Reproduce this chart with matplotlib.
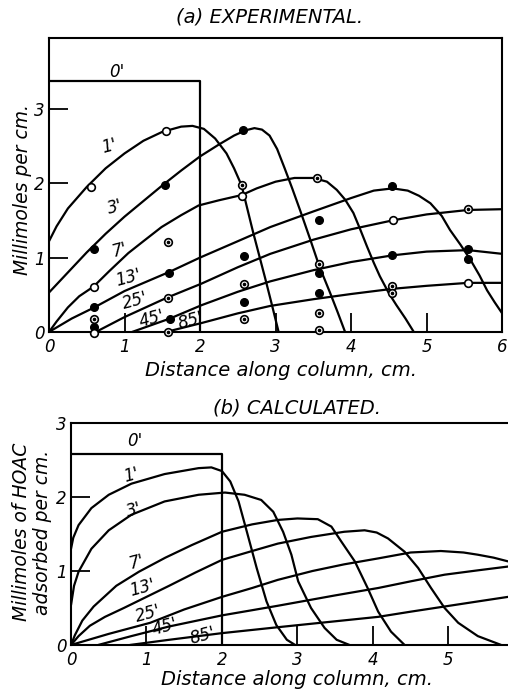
import matplotlib
matplotlib.use("Agg")
import matplotlib.pyplot as plt

# ---- (a) experimental: curves ----
times = ["0'", "1'", "3'", "7'", "13'", "25'", "45'", "85'"]

exp_0_x = [0, 2.0, 2.0]
exp_0_y = [3.37, 3.37, 0]

exp_1_x = [0, 0.1, 0.25, 0.5, 0.75, 1.0, 1.25, 1.5, 1.75, 1.9, 2.05, 2.2, 2.35, 2.45, 2.55,
           2.62, 2.7, 2.78, 2.86, 2.95, 3.04]
exp_1_y = [1.22, 1.42, 1.66, 1.95, 2.2, 2.4, 2.57, 2.69, 2.76, 2.77, 2.73, 2.6, 2.4, 2.2, 1.97,
           1.68, 1.35, 1.04, 0.73, 0.37, 0]

exp_3_x = [0, 0.25, 0.5, 0.75, 1.0, 1.25, 1.5, 1.75, 2.0, 2.25, 2.45, 2.6, 2.72, 2.82, 2.92,
           3.02, 3.12, 3.22, 3.33, 3.46, 3.58, 3.72, 3.82, 3.92]
exp_3_y = [0.53, 0.8, 1.07, 1.32, 1.55, 1.76, 1.97, 2.17, 2.36, 2.52, 2.64, 2.71, 2.74, 2.72, 2.64,
           2.46, 2.2, 1.93, 1.62, 1.24, 0.88, 0.53, 0.27, 0]

exp_7_x = [0, 0.1, 0.25, 0.4, 0.59, 0.8, 1.05, 1.25, 1.49, 1.75, 1.98, 2.25, 2.55, 2.75, 3.0,
           3.25, 3.5, 3.68, 3.81, 3.92, 4.03, 4.12, 4.21, 4.3, 4.38, 4.5, 4.6, 4.72, 4.83]
exp_7_y = [0, 0.14, 0.33, 0.48, 0.61, 0.82, 1.06, 1.22, 1.41, 1.57, 1.7, 1.77, 1.84, 1.93, 2.02,
           2.07, 2.07, 2.02, 1.91, 1.78, 1.6, 1.38, 1.15, 0.93, 0.75, 0.52, 0.36, 0.18, 0]

exp_13_x = [0, 0.3, 0.6, 1.0, 1.3, 1.6, 2.0, 2.5, 2.93, 3.5, 4.0, 4.3, 4.55, 4.75, 4.9, 5.05,
            5.2, 5.31, 5.45, 5.58, 5.7, 5.8, 5.9, 6.0]
exp_13_y = [0, 0.18, 0.33, 0.55, 0.68, 0.81, 1.0, 1.22, 1.41, 1.62, 1.8, 1.9, 1.93, 1.9, 1.83,
            1.73, 1.56, 1.37, 1.17, 0.97, 0.76, 0.56, 0.4, 0.25]

exp_25_x = [0.62, 1.0, 1.56, 2.02, 2.5, 2.93, 3.5, 4.0, 4.55, 5.0, 5.55, 6.0]
exp_25_y = [0, 0.2, 0.46, 0.65, 0.87, 1.05, 1.24, 1.38, 1.5, 1.58, 1.64, 1.65]

exp_45_x = [1.1, 1.6, 2.02, 2.5, 2.93, 3.5, 4.0, 4.55, 5.0, 5.55, 6.0]
exp_45_y = [0, 0.18, 0.36, 0.54, 0.68, 0.83, 0.94, 1.03, 1.08, 1.1, 1.05]

exp_85_x = [1.55, 2.02, 2.5, 2.93, 3.5, 4.0, 4.55, 5.0, 5.55, 6.0]
exp_85_y = [0, 0.12, 0.25, 0.35, 0.44, 0.51, 0.58, 0.62, 0.66, 0.66]

# measured points: filled, open, open with centre dot
pts_filled_x = [0.59, 0.6, 0.6, 1.54, 1.59, 1.6, 2.57, 2.58, 2.58, 3.57, 3.57, 3.57, 4.54, 4.54, 5.55, 5.55]
pts_filled_y = [1.12, 0.33, 0.07, 1.97, 0.79, 0.17, 2.71, 1.02, 0.40, 1.51, 0.79, 0.52, 1.96, 1.04, 1.11, 0.98]
pts_open_x = [0.56, 0.59, 0.6, 1.55, 2.55, 4.55, 5.55]
pts_open_y = [1.95, 0.61, -0.01, 2.70, 1.83, 1.51, 0.66]
pts_dot_x = [0.6, 1.58, 1.57, 1.58, 2.55, 2.58, 2.58, 3.55, 3.57, 3.57, 3.57, 4.54, 4.54, 5.55]
pts_dot_y = [0.17, 1.21, 0.46, 0.0, 1.98, 0.65, 0.17, 2.07, 0.91, 0.26, 0.03, 0.62, 0.52, 1.65]

# ---- (b) calculated ----
calc_0_x = [0, 2.0, 2.0]
calc_0_y = [2.58, 2.58, 0]

calc_1_x = [0, 0.03, 0.1, 0.27, 0.5, 0.8, 1.24, 1.69, 1.86, 2.0, 2.11, 2.22, 2.33, 2.46, 2.59,
            2.72, 2.86, 2.97]
calc_1_y = [1.3, 1.45, 1.62, 1.85, 2.03, 2.18, 2.31, 2.39, 2.4, 2.35, 2.21, 1.94, 1.53, 1.04, 0.59,
            0.27, 0.07, 0]

calc_3_x = [0, 0.04, 0.1, 0.27, 0.5, 0.8, 1.24, 1.69, 2.04, 2.3, 2.52, 2.68, 2.81, 2.92, 3.01,
            3.18, 3.36, 3.52, 3.69]
calc_3_y = [0.54, 0.8, 0.99, 1.3, 1.55, 1.76, 1.94, 2.03, 2.06, 2.03, 1.96, 1.8, 1.53, 1.22, 0.86,
            0.5, 0.23, 0.07, 0]

calc_7_x = [0, 0.05, 0.15, 0.3, 0.6, 0.9, 1.25, 1.6, 2.0, 2.4, 2.74, 3.0, 3.27, 3.45, 3.58, 3.76,
            3.93, 4.07, 4.24, 4.42]
calc_7_y = [0, 0.13, 0.33, 0.52, 0.8, 0.99, 1.18, 1.35, 1.53, 1.63, 1.69, 1.71, 1.7, 1.6, 1.4, 1.13,
            0.77, 0.45, 0.18, 0]

calc_13_x = [0, 0.1, 0.25, 0.45, 0.7, 0.94, 1.3, 1.65, 2.0, 2.4, 2.74, 3.18, 3.62, 3.89, 4.05, 4.2,
             4.42, 4.6, 4.77, 4.95, 5.13, 5.39, 5.7]
calc_13_y = [0, 0.12, 0.26, 0.38, 0.5, 0.62, 0.8, 0.98, 1.15, 1.27, 1.37, 1.46, 1.53, 1.55, 1.52, 1.44,
             1.26, 1.04, 0.77, 0.5, 0.3, 0.12, 0]

calc_25_x = [0, 0.5, 1.05, 1.5, 2.0, 2.4, 2.74, 3.2, 3.62, 4.07, 4.5, 4.9, 5.2, 5.39, 5.6, 5.79]
calc_25_y = [0, 0.15, 0.3, 0.48, 0.65, 0.77, 0.88, 1.0, 1.09, 1.17, 1.25, 1.27, 1.25, 1.22, 1.18, 1.13]

calc_45_x = [0.36, 0.8, 1.3, 2.0, 2.4, 2.74, 3.5, 4.07, 4.5, 4.95, 5.4, 5.79]
calc_45_y = [0, 0.12, 0.25, 0.4, 0.47, 0.53, 0.67, 0.77, 0.86, 0.95, 1.01, 1.06]

calc_85_x = [0.78, 1.3, 2.0, 2.74, 3.5, 4.07, 4.5, 4.95, 5.4, 5.79]
calc_85_y = [0, 0.07, 0.16, 0.24, 0.32, 0.38, 0.45, 0.52, 0.59, 0.65]

ticks_top = [0, 1, 2, 3, 4, 5, 6]
ticks_bot = [0, 1, 2, 3, 4, 5]
yticks_top = [0, 1, 2, 3]
yticks_bot = [0, 1, 2, 3]

plt.rcParams['font.family'] = ['DejaVu Sans']
plt.rcParams['font.style'] = 'italic'
LW = 1.6
K = 'black'

fig = plt.figure(figsize=(5.08, 6.93), dpi=100)
fig.patch.set_facecolor('white')


def style_axes(ax, xt, yt):
    for s in ax.spines.values():
        s.set_linewidth(1.5)
    ax.set_xticks(xt)
    ax.set_yticks(yt)
    ax.set_xticklabels([str(v) for v in xt], fontsize=12, style='italic')
    ax.set_yticklabels([str(v) for v in yt], fontsize=12, style='italic')
    ax.tick_params(axis='both', direction='in', length=14, width=1.3, pad=3, colors=K)
    ax.tick_params(axis='x', pad=4)


# ---------- top panel ----------
ax1 = fig.add_axes([0.0965, 0.521, 0.892, 0.424])
ax1.set_xlim(0, 6)
ax1.set_ylim(0, 3.95)
style_axes(ax1, ticks_top, yticks_top)

exp_curves = [(exp_0_x, exp_0_y), (exp_1_x, exp_1_y), (exp_3_x, exp_3_y), (exp_7_x, exp_7_y),
              (exp_13_x, exp_13_y), (exp_25_x, exp_25_y), (exp_45_x, exp_45_y), (exp_85_x, exp_85_y)]
for cx, cy in exp_curves:
    ax1.plot(cx, cy, color=K, lw=LW, solid_capstyle='round')

ms = 5.5
ax1.plot(pts_filled_x, pts_filled_y, 'o', ms=ms, color=K, clip_on=False, zorder=5)
ax1.plot(pts_open_x, pts_open_y, 'o', ms=ms, mfc='white', mec=K, mew=1.2, clip_on=False, zorder=5)
ax1.plot(pts_dot_x, pts_dot_y, 'o', ms=ms, mfc='white', mec=K, mew=1.2, clip_on=False, zorder=5)
ax1.plot(pts_dot_x, pts_dot_y, 'o', ms=1.6, color=K, clip_on=False, zorder=6)

exp_lab_pos = [(0.9, 3.5), (0.8, 2.5), (0.87, 1.68), (0.94, 1.1), (1.05, 0.73),
               (1.14, 0.42), (1.36, 0.17), (1.88, 0.15)]
for lab, (lx, ly) in zip(times, exp_lab_pos):
    ax1.text(lx, ly, lab, fontsize=12, style='italic', ha='center', va='center',
             rotation=15 if lab not in ("0'",) else 0)

fig.text(0.531, 0.975, "(a) EXPERIMENTAL.", fontsize=14, style='italic', ha='center', va='center')
fig.text(0.553, 0.466, "Distance along column, cm.", fontsize=14, style='italic',
         ha='center', va='center')
fig.text(0.045, 0.726, "Millimoles per cm.", fontsize=13.5, style='italic',
         ha='center', va='center', rotation=90)

# ---------- bottom panel ----------
ax2 = fig.add_axes([0.1398, 0.0693, 0.8602, 0.3203])
ax2.set_xlim(0, 5.79)
ax2.set_ylim(0, 3)
style_axes(ax2, ticks_bot, yticks_bot)
ax2.spines['right'].set_visible(False)

calc_curves = [(calc_0_x, calc_0_y), (calc_1_x, calc_1_y), (calc_3_x, calc_3_y),
               (calc_7_x, calc_7_y), (calc_13_x, calc_13_y), (calc_25_x, calc_25_y),
               (calc_45_x, calc_45_y), (calc_85_x, calc_85_y)]
for cx, cy in calc_curves:
    ax2.plot(cx, cy, color=K, lw=LW, solid_capstyle='round')

calc_lab_pos = [(0.85, 2.76), (0.8, 2.3), (0.83, 1.82), (0.87, 1.12), (0.94, 0.77),
                (1.02, 0.42), (1.24, 0.24), (1.74, 0.12)]
for lab, (lx, ly) in zip(times, calc_lab_pos):
    ax2.text(lx, ly, lab, fontsize=12, style='italic', ha='center', va='center',
             rotation=15 if lab not in ("0'",) else 0)

fig.text(0.585, 0.411, "(b) CALCULATED.", fontsize=14, style='italic', ha='center', va='center')
fig.text(0.585, 0.019, "Distance along column, cm.", fontsize=14, style='italic',
         ha='center', va='center')
fig.text(0.063, 0.232, "Millimoles of HOAC\nadsorbed per cm.", fontsize=13.5, style='italic',
         ha='center', va='center', rotation=90, linespacing=1.15)

fig.savefig("out.png", dpi=100, facecolor='white')
